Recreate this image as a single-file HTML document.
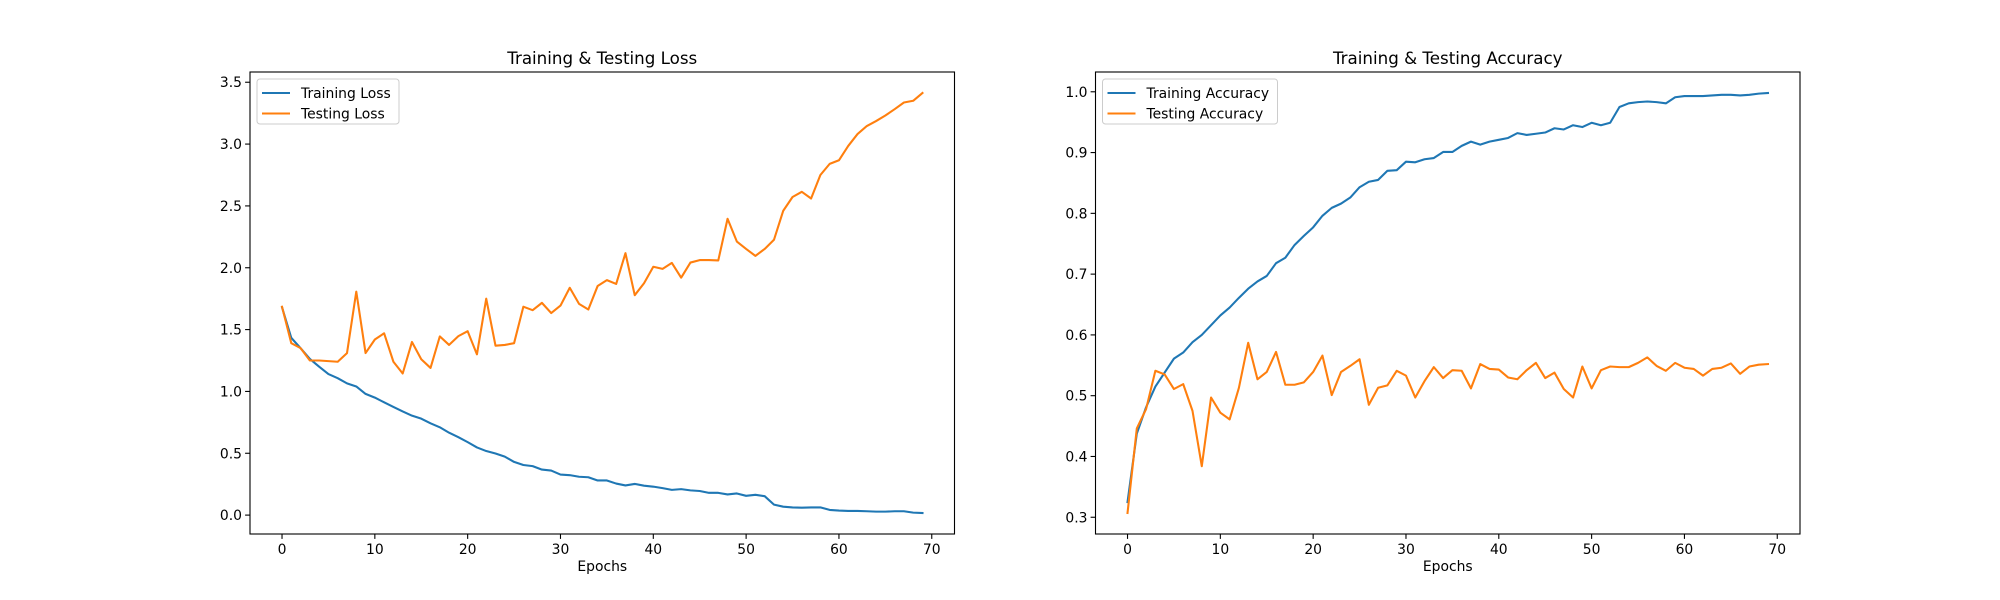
<!DOCTYPE html>
<html><head><meta charset="utf-8"><style>
html,body{margin:0;padding:0;background:#fff;}
svg{display:block;font-family:"DejaVu Sans","Liberation Sans",sans-serif;}
</style></head><body>
<svg id="fig" width="2000" height="600" xmlns="http://www.w3.org/2000/svg"></svg>
<script>
const epochs = Array.from({length:70},(_,i)=>i);
const trainLoss = [1.68,1.433,1.35,1.263,1.20,1.14,1.107,1.065,1.04,0.98,0.95,0.912,0.875,0.838,0.804,0.78,0.742,0.71,0.666,0.63,0.59,0.547,0.518,0.498,0.473,0.43,0.405,0.396,0.368,0.36,0.328,0.323,0.31,0.306,0.28,0.28,0.255,0.24,0.252,0.238,0.23,0.218,0.204,0.21,0.20,0.195,0.18,0.18,0.167,0.175,0.156,0.164,0.153,0.085,0.068,0.062,0.06,0.062,0.062,0.042,0.037,0.034,0.034,0.031,0.028,0.028,0.031,0.031,0.02,0.017];
const testLoss = [1.685,1.39,1.35,1.25,1.25,1.245,1.24,1.31,1.807,1.31,1.42,1.47,1.24,1.145,1.40,1.26,1.19,1.445,1.376,1.447,1.487,1.30,1.75,1.37,1.376,1.39,1.685,1.657,1.716,1.634,1.694,1.838,1.708,1.662,1.852,1.90,1.869,2.118,1.778,1.875,2.008,1.991,2.039,1.92,2.042,2.062,2.062,2.059,2.396,2.212,2.152,2.096,2.152,2.226,2.461,2.572,2.614,2.56,2.75,2.84,2.869,2.985,3.081,3.146,3.186,3.231,3.282,3.336,3.35,3.413];
const trainAcc = [0.325,0.4376,0.481,0.515,0.538,0.561,0.571,0.588,0.60,0.616,0.632,0.645,0.661,0.676,0.688,0.697,0.718,0.727,0.748,0.763,0.777,0.796,0.809,0.816,0.826,0.843,0.852,0.855,0.87,0.871,0.885,0.884,0.889,0.891,0.901,0.901,0.911,0.918,0.913,0.918,0.921,0.924,0.932,0.929,0.931,0.933,0.94,0.938,0.945,0.942,0.949,0.945,0.949,0.975,0.981,0.983,0.984,0.983,0.981,0.991,0.993,0.993,0.993,0.994,0.995,0.995,0.994,0.995,0.997,0.998];
const testAcc = [0.307,0.446,0.478,0.541,0.535,0.511,0.519,0.475,0.384,0.497,0.472,0.461,0.513,0.587,0.527,0.539,0.572,0.518,0.518,0.522,0.539,0.566,0.501,0.539,0.549,0.56,0.485,0.513,0.517,0.541,0.533,0.497,0.524,0.547,0.529,0.542,0.541,0.512,0.552,0.544,0.543,0.53,0.527,0.542,0.554,0.529,0.538,0.511,0.497,0.548,0.512,0.542,0.548,0.547,0.547,0.554,0.563,0.549,0.541,0.554,0.546,0.544,0.533,0.544,0.546,0.553,0.536,0.548,0.551,0.552];
const xTicks = [0,10,20,30,40,50,60,70];
const lossTicks = [0.0,0.5,1.0,1.5,2.0,2.5,3.0,3.5];
const accTicks = [0.3,0.4,0.5,0.6,0.7,0.8,0.9,1.0];

const NS="http://www.w3.org/2000/svg";
const svg=document.getElementById('fig');
function mk(tag,attrs,parent){const e=document.createElementNS(NS,tag);for(const k in attrs)e.setAttribute(k,attrs[k]);(parent||svg).appendChild(e);return e;}

function panel(cfg){
  const L=cfg.left,R=cfg.left+704.5,T=72,B=534;
  const g=mk('g',{});
  
  
  const all=cfg.series.flatMap(s=>s.data);
  const mn=Math.min(...all),mx=Math.max(...all),sp=mx-mn;
  const y0=mn-0.05*sp,y1=mx+0.05*sp;
  const xmn=Math.min(...epochs),xmx=Math.max(...epochs),xs=xmx-xmn;
  const x0=xmn-0.05*xs,x1=xmx+0.05*xs;
  const X=v=>L+(v-x0)/(x1-x0)*(R-L);
  const Y=v=>B-(v-y0)/(y1-y0)*(B-T);
  // series
  cfg.series.forEach(s=>{
    const p=mk('polyline',{points:s.data.map((v,i)=>X(epochs[i]).toFixed(2)+','+Y(v).toFixed(2)).join(' '),fill:'none',stroke:s.color,'stroke-width':2.08,'stroke-linejoin':'round','stroke-linecap':'square'},g);
    
    
  });
  // frame
  const f=mk('rect',{x:L,y:T,width:R-L,height:B-T,fill:'none',stroke:'#000','stroke-width':1.1},g);
  
  
  // x ticks
  xTicks.forEach(t=>{
    const x=X(t);
    mk('line',{x1:x,x2:x,y1:B,y2:B+4.9,stroke:'#000','stroke-width':1.1},g);
    const tx=mk('text',{x:x,y:B+20,'font-size':13.9,'text-anchor':'middle',fill:'#000'},g);
    tx.textContent=t;
    
    
  });
  cfg.yTicks.forEach(t=>{
    const y=Y(t);
    mk('line',{x1:L-4.9,x2:L,y1:y,y2:y,stroke:'#000','stroke-width':1.1},g);
    const tx=mk('text',{x:L-8,y:y+5,'font-size':13.9,'text-anchor':'end',fill:'#000'},g);
    tx.textContent=t.toFixed(1);
    
    
  });
  const xl=mk('text',{x:(L+R)/2,y:B+37,'font-size':13.9,'text-anchor':'middle'},g);
  xl.textContent='Epochs';
  
  
  const ti=mk('text',{x:(L+R)/2,y:T-8,'font-size':16.7,'text-anchor':'middle'},g);
  ti.textContent=cfg.title;
  
  
  // legend
  const lg=mk('g',{},g);
  
  
  mk('rect',{x:L+7,y:T+7,width:cfg.legW,height:45,rx:3,fill:'#fff','fill-opacity':0.8,stroke:'#ccc','stroke-width':1},lg);
  cfg.series.forEach((s,i)=>{
    const yy=T+21+i*20.5;
    mk('line',{x1:L+12,x2:L+40,y1:yy,y2:yy,stroke:s.color,'stroke-width':2.08},lg);
    const t=mk('text',{x:L+51,y:yy+5,'font-size':13.9},lg);
    t.textContent=s.label;
    
    
  });
}
panel({name:'loss-chart',left:250,title:'Training & Testing Loss',yTicks:lossTicks,legW:142,
  series:[{id:'training-loss-line',label:'Training Loss',data:trainLoss,color:'#1f77b4'},{id:'testing-loss-line',label:'Testing Loss',data:testLoss,color:'#ff7f0e'}]});
panel({name:'accuracy-chart',left:1095.5,title:'Training & Testing Accuracy',yTicks:accTicks,legW:175,
  series:[{id:'training-accuracy-line',label:'Training Accuracy',data:trainAcc,color:'#1f77b4'},{id:'testing-accuracy-line',label:'Testing Accuracy',data:testAcc,color:'#ff7f0e'}]});
</script>
</body></html>
